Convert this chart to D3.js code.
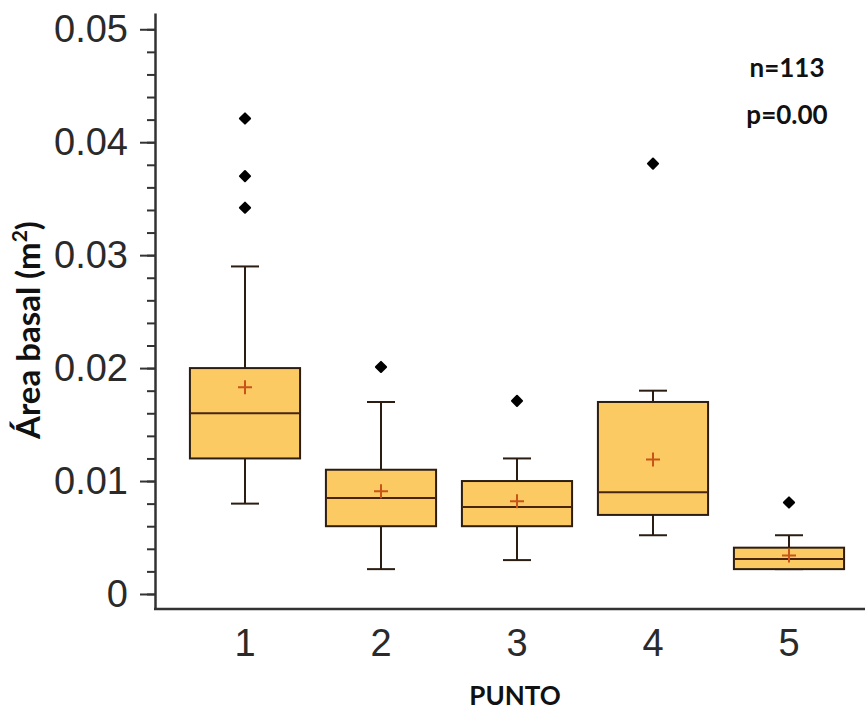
<!DOCTYPE html>
<html>
<head>
<meta charset="utf-8">
<script src="https://cdn.jsdelivr.net/npm/d3@7"></script>
<style>
  body { margin: 0; background: #fff; }
</style>
</head>
<body>
<div id="chart"></div>
<script>
// values
const puntos = ["1", "2", "3", "4", "5"];
const q1 = [0.012, 0.006, 0.006, 0.007, 0.0022];
const medians = [0.016, 0.0085, 0.0077, 0.009, 0.0031];
const q3 = [0.020, 0.011, 0.010, 0.017, 0.0041];
const whiskerLow = [0.008, 0.0022, 0.003, 0.0052, 0.0022];
const whiskerHigh = [0.029, 0.017, 0.012, 0.018, 0.0052];
const means = [0.0183, 0.0091, 0.0082, 0.0119, 0.0034];
const outliers = [[0.0421, 0.037, 0.0342], [0.0201], [0.0171], [0.0381], [0.0081]];
const yTicks = [0, 0.01, 0.02, 0.03, 0.04, 0.05];
const yTickLabels = ["0", "0.01", "0.02", "0.03", "0.04", "0.05"];
const stats = ["n=113", "p=0.00"];

const width = 865, height = 711;

const svg = d3.select("#chart")
    .append("svg")
    .attr("width", width)
    .attr("height", height);

const axisX = 155, axisY = 609;

const xScale = d3.scaleBand()
    .domain(puntos)
    .range([177, 857])
    .paddingInner(0.19)
    .paddingOuter(0.095);

const yScale = d3.scaleLinear()
    .domain([-0.00133, 0.05144])
    .range([axisY, 13]);

const boxes = puntos.map((p, i) => ({
    punto: p,
    q1: q1[i], median: medians[i], q3: q3[i],
    lo: whiskerLow[i], hi: whiskerHigh[i],
    mean: means[i], out: outliers[i]
}));

// minor ticks (every 0.002)
svg.append("g")
    .attr("transform", `translate(${axisX},0)`)
    .call(d3.axisLeft(yScale).tickValues(d3.range(0, 0.0501, 0.002)).tickSize(8).tickFormat(""))
    .call(g => g.select(".domain").remove())
    .selectAll("line")
    .attr("stroke", "#333")
    .attr("stroke-width", 2);

// major ticks + labels
const yAxis = svg.append("g")
    .attr("transform", `translate(${axisX},0)`)
    .call(d3.axisLeft(yScale)
        .tickValues(yTicks)
        .tickSize(15)
        .tickSizeOuter(0)
        .tickPadding(12)
        .tickFormat((d, i) => yTickLabels[i]));

yAxis.select(".domain").attr("stroke", "#333").attr("stroke-width", 2.5);
yAxis.selectAll("line").attr("stroke", "#333").attr("stroke-width", 2);
yAxis.selectAll("text")
    .attr("font-family", "'Liberation Sans', Arial, sans-serif")
    .attr("font-size", 38)
    .attr("fill", "#2a2a2a");

// x axis
const xAxis = svg.append("g")
    .attr("transform", `translate(0,${axisY})`)
    .call(d3.axisBottom(xScale).tickSize(0).tickPadding(20));

xAxis.select(".domain").remove();
xAxis.selectAll("text")
    .attr("font-family", "'Liberation Sans', Arial, sans-serif")
    .attr("font-size", 38)
    .attr("fill", "#2a2a2a");

svg.append("line")
    .attr("x1", axisX - 1)
    .attr("x2", width)
    .attr("y1", axisY)
    .attr("y2", axisY)
    .attr("stroke", "#333")
    .attr("stroke-width", 2.5);

// boxes
const boxColor = "#fcca62";
const lineColor = "#2b1d12";
const capW = 28;

const g = svg.selectAll(".box")
    .data(boxes)
    .enter()
    .append("g")
    .attr("class", "box");

const cx = d => xScale(d.punto) + xScale.bandwidth() / 2;

g.append("line")
    .attr("x1", cx).attr("x2", cx)
    .attr("y1", d => yScale(d.hi))
    .attr("y2", d => yScale(d.q3))
    .attr("stroke", lineColor).attr("stroke-width", 2);

g.append("line")
    .attr("x1", cx).attr("x2", cx)
    .attr("y1", d => yScale(d.q1))
    .attr("y2", d => yScale(d.lo))
    .attr("stroke", lineColor).attr("stroke-width", 2);

g.append("line")
    .attr("x1", d => cx(d) - capW / 2).attr("x2", d => cx(d) + capW / 2)
    .attr("y1", d => yScale(d.hi)).attr("y2", d => yScale(d.hi))
    .attr("stroke", lineColor).attr("stroke-width", 2);

g.append("line")
    .attr("x1", d => cx(d) - capW / 2).attr("x2", d => cx(d) + capW / 2)
    .attr("y1", d => yScale(d.lo)).attr("y2", d => yScale(d.lo))
    .attr("stroke", lineColor).attr("stroke-width", 2);

g.append("rect")
    .attr("x", d => xScale(d.punto))
    .attr("y", d => yScale(d.q3))
    .attr("width", xScale.bandwidth())
    .attr("height", d => yScale(d.q1) - yScale(d.q3))
    .attr("fill", boxColor)
    .attr("stroke", lineColor)
    .attr("stroke-width", 2);

g.append("line")
    .attr("x1", d => xScale(d.punto)).attr("x2", d => xScale(d.punto) + xScale.bandwidth())
    .attr("y1", d => yScale(d.median)).attr("y2", d => yScale(d.median))
    .attr("stroke", "#4a2412").attr("stroke-width", 2);

// mean markers
const plus = 7;
g.append("path")
    .attr("d", d => {
        const x = cx(d), y = yScale(d.mean);
        return `M${x - plus},${y}H${x + plus}M${x},${y - plus}V${y + plus}`;
    })
    .attr("stroke", "#c8541a")
    .attr("stroke-width", 2)
    .attr("fill", "none");

// outliers
g.selectAll(".outlier")
    .data(d => d.out.map(v => ({ punto: d.punto, value: v })))
    .enter()
    .append("path")
    .attr("class", "outlier")
    .attr("d", d3.symbol(d3.symbolSquare, 52))
    .attr("transform", d => `translate(${cx(d)},${yScale(d.value)}) rotate(45)`)
    .attr("fill", "#000")
    .attr("stroke", "#000")
    .attr("stroke-width", 2)
    .attr("stroke-linejoin", "round");

// titles
const titleFont = "Lato, 'Open Sans', sans-serif";

const yTitle = svg.append("text")
    .attr("transform", "translate(40,330) rotate(-90)")
    .attr("text-anchor", "middle")
    .attr("font-family", titleFont)
    .attr("font-weight", "bold")
    .attr("font-size", 33)
    .attr("fill", "#111");
yTitle.append("tspan").text("Área basal (m");
yTitle.append("tspan").attr("font-size", 21).attr("dy", -13).text("2");
yTitle.append("tspan").attr("dy", 13).text(")");

svg.append("text")
    .attr("x", 515)
    .attr("y", 705)
    .attr("text-anchor", "middle")
    .attr("font-family", titleFont)
    .attr("font-weight", "bold")
    .attr("font-size", 26)
    .attr("fill", "#111")
    .text("PUNTO");

svg.selectAll(".stat")
    .data(stats)
    .enter()
    .append("text")
    .attr("class", "stat")
    .attr("x", 787)
    .attr("y", (d, i) => 77 + i * 47)
    .attr("text-anchor", "middle")
    .attr("font-family", titleFont)
    .attr("font-weight", "bold")
    .attr("font-size", 26)
    .attr("fill", "#111")
    .text(d => d);
</script>
</body>
</html>
